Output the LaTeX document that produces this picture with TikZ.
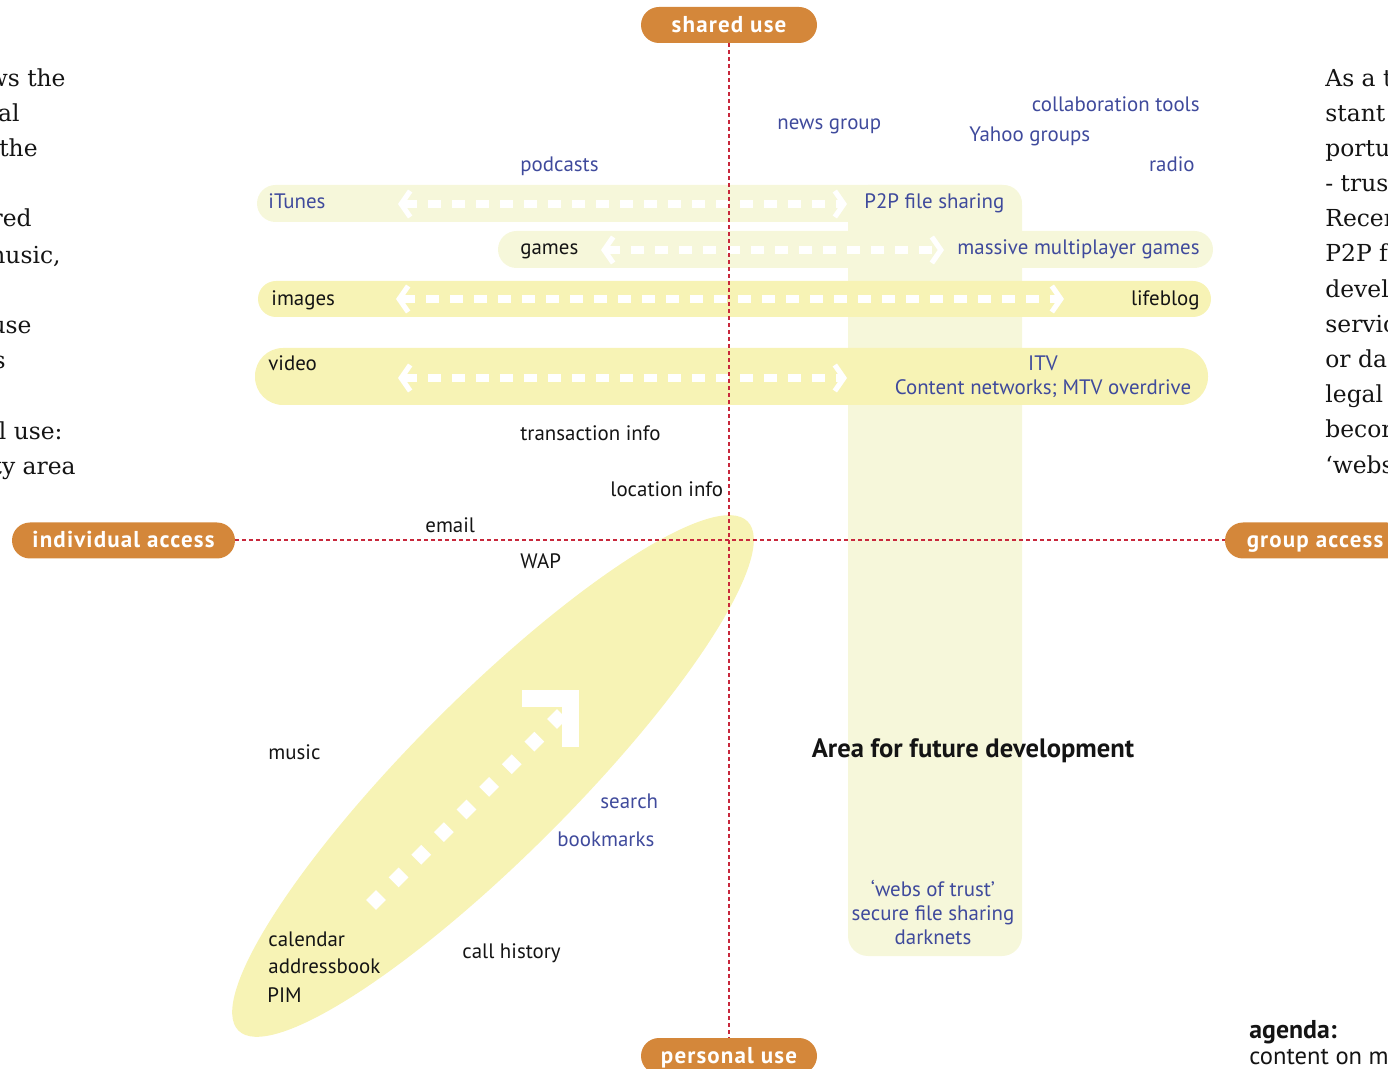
\documentclass[tikz,border=0pt]{standalone}
\usepackage{fontspec}
\usepackage{tikz}
\usetikzlibrary{arrows.meta,positioning}
\setmainfont{PT Sans}
\newfontfamily\labelfont{PT Sans}
\newfontfamily\pillfont[LetterSpace=5]{PT Sans}
\newfontfamily\notefont{DejaVu Serif}
\definecolor{AxisOrange}{HTML}{D4873A}
\definecolor{AxisRed}{HTML}{C8283C}
\definecolor{BandPale}{HTML}{F6F7DA}
\definecolor{BandYellow}{HTML}{F7F3B5}
\definecolor{LabelBlue}{HTML}{3F4A9C}
\definecolor{LabelInk}{HTML}{141414}

\begin{document}
\begin{tikzpicture}[x=0.5pt,y=-0.5pt,
  lbl/.style={font=\labelfont\fontsize{10.45}{12}\selectfont,inner sep=0pt,
    text height=7.5pt,text depth=2.1pt,text=LabelInk,anchor=west},
  bluelbl/.style={lbl,text=LabelBlue},
  lblblock/.style={font=\labelfont\fontsize{10.45}{12}\selectfont,inner sep=0pt,
    align=center,text=LabelBlue},
  boldlbl/.style={font=\labelfont\bfseries\fontsize{13.3}{15}\selectfont,inner sep=0pt,
    text height=9.4pt,text depth=2.6pt,text=LabelInk},
  pill/.style={fill=AxisOrange,text=white,rounded corners=9pt,minimum height=18pt,
    inner sep=0pt,text height=8.5pt,text depth=1pt,
    font=\pillfont\bfseries\fontsize{11.5}{13}\selectfont},
  axisline/.style={AxisRed,line width=1pt,dash pattern=on 2pt off 1.5pt},
  rowtip/.tip={Straight Barb[length=4.5pt,width=13pt,line width'=2.6pt]},
  rowarrow/.style={white,line width=3.6pt,dash pattern=on 6.5pt off 5.5pt,rowtip-rowtip},
  note/.style={font=\notefont\fontsize{11.7}{14}\selectfont,inner sep=0pt,
    text height=8.5pt,text depth=2.3pt,text=LabelInk}]
  \useasboundingbox (0,0) rectangle (1388,1069);
  \begin{scope}
  \clip (0,0) rectangle (1388,1069);

  % pale column and bands
  \fill[BandPale,rounded corners=10pt] (848,185) rectangle (1022,956);
  \fill[BandPale,rounded corners=9.25pt] (257,185) rectangle (1022,222);
  \fill[BandPale,rounded corners=9.25pt] (498,231) rectangle (1213,268);
  \fill[BandYellow,rounded corners=9pt] (258,281) rectangle (1211,317);
  \fill[BandYellow,rounded corners=14pt] (255,348) rectangle (1208,405);
  \fill[BandYellow,rotate around={45:(493,776)}] (493,776) ellipse [x radius=360,y radius=80];

  % white arrows in the bands
  \foreach \row/\xa/\xb/\y in {itunes/398/847/204,games/601/944/250,
                               images/396/1064/299,video/398/847/378}{%
    \coordinate (\row-l) at (\xa,\y);
    \coordinate (\row-r) at (\xb,\y);
    \draw[rowarrow] (\row-l) -- (\row-r);
  }
  \coordinate (diagS) at (371,905);
  \coordinate (diagE) at (562,714);
  \draw[white,line width=7pt,dash pattern=on 7pt off 9pt] (diagS) -- (diagE);
  \draw[white,line width=8.5pt,line join=miter] (522,698.5) -- (570.5,698.5) -- (570.5,747);

  % axes
  \node[pill,minimum width=88pt] (shared) at (729,25) {shared use};
  \node[pill,minimum width=88pt] (personal) at (729,1056) {personal use};
  \node[pill,minimum width=111.5pt] (individual) at (123.5,540.5) {individual access};
  \node[pill,minimum width=90pt] (group) at (1315,540.5) {group access};
  \draw[axisline] (shared) -- (personal);
  \draw[axisline] (individual) -- (group);

  % labels, shared side
  \node[bluelbl] (podcasts) at (520,166) {podcasts};
  \node[bluelbl] (newsgroup) at (777,124) {news group};
  \node[bluelbl,anchor=east] (collab) at (1200,106) {collaboration tools};
  \node[bluelbl] (yahoo) at (969,136) {Yahoo groups};
  \node[bluelbl,anchor=east] (radio) at (1195,166) {radio};
  \node[bluelbl] (itunes) at (268,203) {iTunes};
  \node[bluelbl] (p2p) at (864,203) {P2P file sharing};
  \node[lbl] (games) at (520,249) {games};
  \node[bluelbl,anchor=east] (mmog) at (1200,249) {massive multiplayer games};
  \node[lbl] (images) at (271,300) {images};
  \node[lbl,anchor=east] (lifeblog) at (1200,300) {lifeblog};
  \node[lbl] (video) at (268,365) {video};
  \node[lblblock] (itv) at (1043,377) {ITV\\Content networks; MTV overdrive};
  \node[lbl] (transaction) at (520,435) {transaction info};
  \node[lbl] (location) at (610,491) {location info};
  \node[lbl] (email) at (425,527) {email};

  % labels, personal side
  \node[lbl] (wap) at (520,563) {WAP};
  \node[lbl] (music) at (268,754) {music};
  \node[bluelbl] (search) at (600,803) {search};
  \node[bluelbl] (bookmarks) at (557,841) {bookmarks};
  \node[lbl] (calendar) at (268,941) {calendar};
  \node[lbl] (addressbook) at (268,968) {addressbook};
  \node[lbl] (pim) at (267,997) {PIM};
  \node[lbl] (callhistory) at (462,953) {call history};
  \node[boldlbl] (future) at (973,751) {Area for future development};
  \node[lblblock] (webs) at (933,912) {‘webs of trust’\\secure file sharing\\darknets};
  \node[boldlbl,anchor=west,font=\labelfont\bfseries\fontsize{12.9}{15}\selectfont] (agenda) at (1249,1032) {agenda:};
  \node[lbl,font=\labelfont\fontsize{12.3}{14}\selectfont] (content) at (1249,1059) {content on m};

  % page text on both sides
  \foreach \txt/\xe/\y [count=\i] in {ws the/66/80,al/20/115,the/38/150,red/32/220,
      {nusic,}/61/257,use/32/327,s/6/362,l use:/63/433,ty area/76/468}{%
    \node[note,anchor=east] (leftnote\i) at (\xe,\y) {\txt};
  }
  \foreach \txt/\y [count=\i] in {As a t/80,stant/115,portu/150,- trus/185,Recer/220,
      P2P f/255,devel/291,servic/326,or da/361,legal/396,becor/431,‘webs/467}{%
    \node[note,anchor=west] (rightnote\i) at (1325,\y) {\txt};
  }
  \end{scope}
\end{tikzpicture}
\end{document}
